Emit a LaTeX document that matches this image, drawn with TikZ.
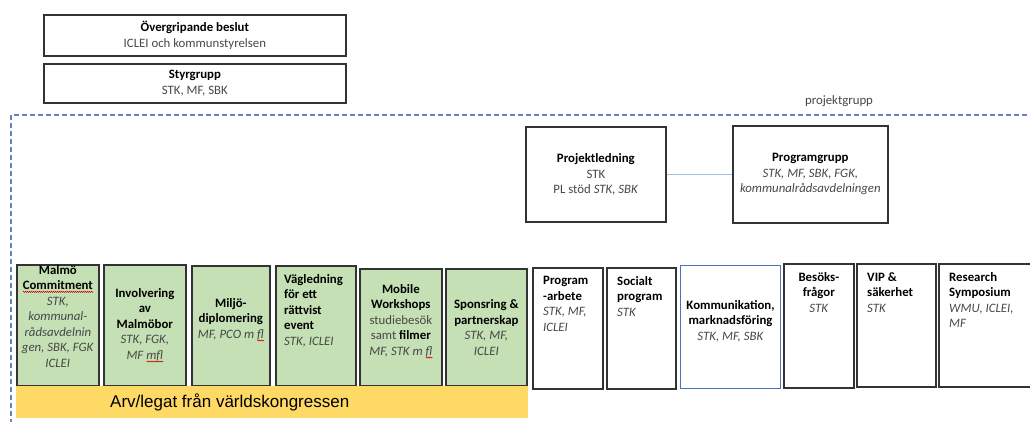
\documentclass[tikz,border=0pt]{standalone}
\usepackage{fontspec}
\usetikzlibrary{positioning,decorations.pathmorphing}
\setmainfont{Carlito}
\newfontfamily\arialfont{Liberation Sans}
\definecolor{boxgreen}{HTML}{C5E0B4}
\definecolor{legatgul}{HTML}{FFD966}
\definecolor{ramblue}{HTML}{6484BE}
\definecolor{kommblue}{HTML}{4A72BE}
\definecolor{linjeblue}{HTML}{A4C0E8}
\newcommand\boxfont{\fontsize{12.8}{15.5}\selectfont}
\newcommand\titel[1]{\textcolor{black}{\textbf{#1}}}
\newsavebox\stavbox
\newcommand\stavfel[1]{\sbox\stavbox{#1}\rlap{\raisebox{-3pt}{\tikz\draw[red!85!black, line width=0.5pt, decorate, decoration={zigzag, amplitude=0.6pt, segment length=2pt}] (0pt,0pt) -- (\wd\stavbox,0pt);}}\usebox\stavbox}
\tikzset{
  frame/.style={draw=black!80, line width=1.7pt, inner sep=0pt, anchor=north west},
  greenbox/.style={frame, fill=boxgreen},
  kommbox/.style={draw=kommblue, line width=1pt, inner sep=0pt, anchor=north west},
  txt/.style={inner sep=0pt, font=\boxfont, text=black!72},
  ctxt/.style={txt, align=center},
  ltxt/.style={txt, align=left, anchor=north west},
}
\begin{document}
\begin{tikzpicture}[x=1pt,y=-1pt]
\useasboundingbox (0,0) rectangle (1030,421);
%%%%% The two decision levels on top
\node[frame, minimum width=302, minimum height=41, ctxt] (beslut) at (43,14) {\titel{Övergripande beslut}\\ICLEI och kommunstyrelsen};
\node[frame, minimum width=302, minimum height=39, ctxt] (styr) at (43,63) {\titel{Styrgrupp}\\STK, MF, SBK};
%%%%% The dashed frame of the project group
\draw[ramblue, line width=1.6pt, dash pattern=on 5pt off 3pt] (11,440) -- (11,115) -- (1045,115);
\node[txt] (projektgrupp-t) at (839,101) {projektgrupp};
%%%%% Project management and the programme group
\node[frame, minimum width=140, minimum height=95, ctxt] (projled) at (525,126) {\titel{Projektledning}\\STK\\PL stöd \textit{STK, SBK}};
\node[frame, minimum width=155, minimum height=97, ctxt] (programgrupp) at (732,125) {\titel{Programgrupp}\\\textit{STK, MF, SBK, FGK,}\\\textit{kommunalrådsavdelningen}};
\draw[linjeblue, line width=1.5pt] (projled) -- (programgrupp);
%%%%% The green work packages (legacy)
\node[greenbox, minimum width=82, minimum height=121] (malmo) at (16,264) {};
\node[greenbox, minimum width=82, minimum height=121, ctxt] (involvering) at (103,264) {\titel{Involvering}\\\titel{av}\\\titel{Malmöbor}\\\textit{STK, FGK,}\\\textit{MF \stavfel{mfl}}};
\node[greenbox, minimum width=78, minimum height=120] (miljo) at (191,265) {};
\node[greenbox, minimum width=80, minimum height=120] (vagledning) at (275,265) {};
\node[greenbox, minimum width=82, minimum height=117] (mobile) at (359,268) {};
\node[greenbox, minimum width=81, minimum height=117, ctxt] (sponsring) at (445,268) {\titel{Sponsring \&}\\\titel{partnerskap}\\\textit{STK, MF,}\\\textit{ICLEI}};
%
\node[ctxt, below=1pt of malmo.north] (malmo-t) {\titel{Malmö}\\\titel{\stavfel{Commitment}}\\\textit{STK,}\\\textit{kommunal-}\\\textit{rådsavdelnin}\\\textit{gen, SBK, FGK}\\\textit{ICLEI}};
\node[ctxt] (miljo-t) at ([yshift=6pt]miljo.center) {\titel{Miljö-}\\\titel{diplomering}\\\textit{MF, PCO m \stavfel{fl}}};
\node[ltxt, below right=9pt and 9pt of vagledning.north west] (vagledning-t) {\titel{Vägledning}\\\titel{för ett}\\\titel{rättvist}\\\titel{event}\\\textit{STK, ICLEI}};
\node[ctxt] (mobile-t) at ([yshift=6pt]mobile.center) {\titel{Mobile}\\\titel{Workshops}\\studiebesök\\samt \titel{filmer}\\\textit{MF, STK m \stavfel{fl}}};
%%%%% The legacy banner under the green boxes
\node[fill=legatgul, inner sep=0pt, anchor=north west, minimum width=512, minimum height=32] (arv) at (16,386) {};
\node[inner sep=0pt, anchor=west, font=\arialfont\fontsize{17}{20}\selectfont, right=94pt of arv.west] (arv-t) {Arv/legat från världskongressen};
%%%%% The white work packages
\node[frame, minimum width=70, minimum height=121] (programarbete) at (532,267) {};
\node[frame, minimum width=69, minimum height=121] (socialt) at (606,267) {};
\node[kommbox, minimum width=100, minimum height=123] (kommunikation) at (680,265) {};
\node[frame, minimum width=70, minimum height=124] (besok) at (783,263) {};
\node[frame, minimum width=79, minimum height=123] (vip) at (856,263) {};
\node[frame, minimum width=100, minimum height=123] (research) at (938,263) {};
%
\node[ltxt, below right=9pt and 11pt of programarbete.north west] (programarbete-t) {\titel{Program}\\\titel{-arbete}\\\textit{STK, MF,}\\\textit{ICLEI}};
\node[ltxt, below right=9pt and 11pt of socialt.north west] (socialt-t) {\titel{Socialt}\\\titel{program}\\\textit{STK}};
\node[ctxt] (kommunikation-t) at ([yshift=6pt]kommunikation.center) {\titel{Kommunikation,}\\\titel{marknadsföring}\\\textit{STK, MF, SBK}};
\node[ctxt, below=9pt of besok.north] (besok-t) {\titel{Besöks-}\\\titel{frågor}\\\textit{STK}};
\node[ltxt, below right=9pt and 11pt of vip.north west] (vip-t) {\titel{VIP \&}\\\titel{säkerhet}\\\textit{STK}};
\node[ltxt, below right=9pt and 11pt of research.north west] (research-t) {\titel{Research}\\\titel{Symposium}\\\textit{WMU, ICLEI,}\\\textit{MF}};
\end{tikzpicture}
\end{document}
